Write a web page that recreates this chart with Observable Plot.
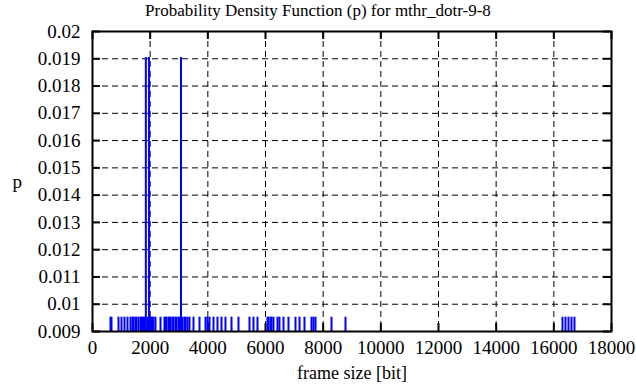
<!DOCTYPE html>
<html>
<head>
<meta charset="utf-8">
<script src="https://cdn.jsdelivr.net/npm/d3@7"></script>
<script src="https://cdn.jsdelivr.net/npm/@observablehq/plot@0.6"></script>
<style>
  html, body { margin: 0; padding: 0; background: #fff; }
  #wrap { width: 636px; height: 387px; position: relative; font-family: 'Liberation Serif', 'Times New Roman', Times, serif; }
  #title { position: absolute; left: 0; top: 0; width: 636px; text-align: center; font-size: 17px; line-height: 22px; height: 22px; }
  #chart { position: absolute; left: 0; top: 22px; }
  #chart svg, #chart svg text { font-family: 'Liberation Serif', 'Times New Roman', Times, serif !important; }
</style>
</head>
<body>
<div id="wrap">
  <div id="title">Probability Density Function (p) for mthr_dotr-9-8</div>
  <div id="chart"></div>
</div>
<script>
// frame sizes [bit] that occurred once (p = 1/N) and twice (p = 2/N)
const singleFrameSizes = [624, 659, 902, 1006, 1110, 1214, 1318, 1387, 1422, 1491, 1526, 1595, 1665, 1699, 1734, 1769, 1803, 1907, 2011, 2046, 2081, 2115, 2185, 2358, 2497, 2532, 2566, 2636, 2670, 2705, 2774, 2809, 2878, 2913, 2982, 3017, 3121, 3191, 3225, 3295, 3364, 3503, 3711, 3919, 3988, 4058, 4196, 4335, 4474, 4612, 4821, 5063, 5445, 5583, 5722, 6069, 6104, 6173, 6208, 6277, 6416, 6485, 6624, 6797, 7040, 7179, 7352, 7595, 7664, 7734, 8289, 8774, 16300, 16404, 16508, 16612, 16716];
const doubleFrameSizes = [1850, 1960, 3070];
const pSingle = 0.009524;
const pDouble = 0.019048;

const xTicks = [0, 2000, 4000, 6000, 8000, 10000, 12000, 14000, 16000, 18000];
const xTickLabels = ["0", "2000", "4000", "6000", "8000", "10000", "12000", "14000", "16000", "18000"];
const yTicks = [0.009, 0.01, 0.011, 0.012, 0.013, 0.014, 0.015, 0.016, 0.017, 0.018, 0.019, 0.02];
const yTickLabels = ["0.009", "0.01", "0.011", "0.012", "0.013", "0.014", "0.015", "0.016", "0.017", "0.018", "0.019", "0.02"];

const data = [
  ...singleFrameSizes.map(x => ({x, p: pSingle})),
  ...doubleFrameSizes.map(x => ({x, p: pDouble}))
];

const W = 636, H = 365;
const mL = 92, mR = 25, mT = 9, mB = 56;
const fw = W - mL - mR, fh = H - mT - mB;
const FONT = "'Liberation Serif', 'Times New Roman', Times, serif";

const chart = Plot.plot({
  width: W,
  height: H,
  marginLeft: mL,
  marginRight: mR,
  marginTop: mT,
  marginBottom: mB,
  style: { fontFamily: FONT, fontSize: "17px", background: "#fff", color: "#000" },
  x: { domain: [0, 18000], ticks: xTicks, label: null },
  y: { domain: [0.009, 0.02], ticks: yTicks, label: null },
  marks: [
    Plot.gridX(xTicks, { stroke: "#000", strokeOpacity: 1, strokeDasharray: "6,4", strokeWidth: 1 }),
    Plot.gridY(yTicks, { stroke: "#000", strokeOpacity: 1, strokeDasharray: "6,4", strokeWidth: 1 }),
    Plot.tickX(xTicks, { x: d => d, stroke: "#000", strokeWidth: 2, insetTop: fh - 8 }),
    Plot.tickX(xTicks, { x: d => d, stroke: "#000", strokeWidth: 2, insetBottom: fh - 8 }),
    Plot.tickY(yTicks, { y: d => d, stroke: "#000", strokeWidth: 2, insetRight: fw - 8 }),
    Plot.tickY(yTicks, { y: d => d, stroke: "#000", strokeWidth: 2, insetLeft: fw - 8 }),
    Plot.ruleX(data, { x: "x", y1: 0.009, y2: "p", stroke: "#0000ff", strokeWidth: 2 }),
    Plot.frame({ stroke: "#000", strokeWidth: 2 }),
    Plot.axisX(xTicks, { anchor: "bottom", tickSize: 0, tickPadding: 9, fontSize: 19, label: null,
      tickFormat: d => xTickLabels[xTicks.indexOf(d)] }),
    Plot.axisY(yTicks, { anchor: "left", tickSize: 0, tickPadding: 12, fontSize: 19, label: null,
      tickFormat: d => yTickLabels[yTicks.indexOf(d)] }),
    Plot.text(["frame size [bit]"], { text: d => d, frameAnchor: "bottom", dy: 47, fontSize: 18 }),
    Plot.text(["p"], { text: d => d, frameAnchor: "left", dx: -80, fontSize: 19 })
  ]
});
document.getElementById("chart").appendChild(chart);
</script>
</body>
</html>
